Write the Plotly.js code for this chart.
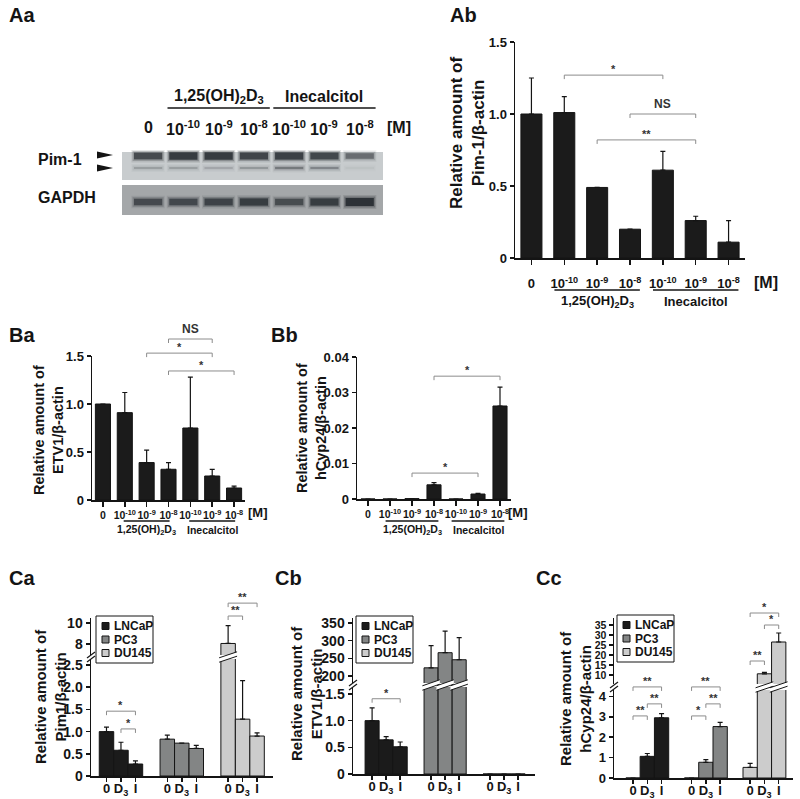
<!DOCTYPE html>
<html>
<head>
<meta charset="utf-8">
<script src="https://cdn.plot.ly/plotly-3.0.1.min.js"></script>
<style>
  body { margin: 0; background: #fff; }
  #chart { width: 800px; height: 799px; }
</style>
</head>
<body>
<div id="chart"></div>
<script>
// ---- data ----
const doseLabels = ['0', '10<sup>-10</sup>', '10<sup>-9</sup>', '10<sup>-8</sup>', '10<sup>-10</sup>', '10<sup>-9</sup>', '10<sup>-8</sup>'];
const groupNames = ['1,25(OH)<sub>2</sub>D<sub>3</sub>', 'Inecalcitol'];
const groupLanes = [[1, 2, 3], [4, 5, 6]];

// Aa: western blot band density per lane (0..1)
const pimUpperBand = [0.75, 0.9, 0.9, 0.8, 0.85, 0.78, 0.5];
const pimLowerBand = [0.22, 0.22, 0.18, 0.25, 0.42, 0.35, 0.05];
const gapdhBand = [0.7, 0.72, 0.78, 0.85, 0.68, 0.85, 1.0];

// Ab: Pim-1 / beta-actin
const pimMean = [1.0, 1.01, 0.49, 0.2, 0.61, 0.26, 0.11];
const pimErr = [0.25, 0.11, 0, 0, 0.13, 0.03, 0.15];

// Ba: ETV1 / beta-actin
const etvMean = [1.0, 0.91, 0.39, 0.32, 0.75, 0.25, 0.125];
const etvErr = [0, 0.21, 0.13, 0.07, 0.53, 0.07, 0.02];

// Bb: hCyp24 / beta-actin
const cypMean = [0, 0, 0.0001, 0.004, 0, 0.0014, 0.0262];
const cypErr = [0, 0, 0, 0.0006, 0, 0.0002, 0.0053];

// C: cell lines, treatments 0 / D3 / I
const cellLines = ['LNCaP', 'PC3', 'DU145'];
const treatLabels = ['0', 'D<sub>3</sub>', 'I'];

const caLNCaP = [1.0, 0.58, 0.27], caLNCaPErr = [0.1, 0.18, 0.07];
const caPC3 = [0.83, 0.74, 0.62], caPC3Err = [0.09, 0, 0.07];
const caDU145 = [8.05, 1.28, 0.9], caDU145Err = [1.7, 0.87, 0.07];

const cbLNCaP = [1.0, 0.64, 0.51], cbLNCaPErr = [0.24, 0.06, 0.09];
const cbPC3 = [223, 266, 246], cbPC3Err = [63, 61, 63];
const cbDU145 = [0, 0, 0], cbDU145Err = [0, 0, 0];

const ccLNCaP = [0, 1.06, 2.95], ccLNCaPErr = [0, 0.14, 0.2];
const ccPC3 = [0, 0.77, 2.52], ccPC3Err = [0, 0.13, 0.2];
const ccDU145 = [0.52, 10.6, 26.5], ccDU145Err = [0.2, 0.7, 4.5];

// ---- style ----
const FONT = 'Arial, "Liberation Sans", Helvetica, sans-serif';
const INK = '#141414';
const BRACKET = '#8c8c8c';
const seriesColors = ['#1b1b1b', '#838585', '#cccccc'];
const W = 800, H = 799;
const fx = p => p / W;
const fy = p => 1 - p / H;
const bold = (size, color) => ({ family: FONT, size: size, weight: 700, color: color || INK });

const traces = [], shapes = [], annotations = [];
const layout = {
  width: W, height: H,
  margin: { l: 0, r: 0, t: 0, b: 0 },
  paper_bgcolor: '#fff', plot_bgcolor: 'rgba(0,0,0,0)',
  barmode: 'overlay', showlegend: false,
  font: { family: FONT, color: INK }
};

function axis(extra) {
  return Object.assign({
    linecolor: INK, linewidth: 1.5, showline: true,
    ticks: 'outside', ticklen: 4, tickwidth: 1.5, tickcolor: INK,
    showgrid: false, zeroline: false, fixedrange: true, tickangle: 0,
    tickfont: bold(13)
  }, extra);
}

function text(x, y, t, size, opts) {
  annotations.push(Object.assign({
    xref: 'paper', yref: 'paper', x: fx(x), y: fy(y), text: t,
    showarrow: false, font: bold(size), xanchor: 'left', yanchor: 'middle'
  }, opts));
}

function yTitle(x, y, t, size) {
  text(x, y, t, size, { textangle: -90, xanchor: 'center' });
}

// significance bracket: x in lane units, y value on the axis, drawn in axis-domain space
function bracket(xa, ya, range, hPx, x0, x1, v, label) {
  const f = (v - range[0]) / (range[1] - range[0]);
  const d = 4 / hPx;
  shapes.push({
    type: 'path', xref: xa, yref: ya + ' domain',
    path: `M${x0},${f - d} L${x0},${f} L${x1},${f} L${x1},${f - d}`,
    line: { color: BRACKET, width: 1 }
  });
  annotations.push({
    xref: xa, yref: ya + ' domain', x: (x0 + x1) / 2, y: f, yshift: label === 'NS' ? 1 : -2,
    text: label, showarrow: false, yanchor: 'bottom', font: bold(label === 'NS' ? 12 : 11, '#333')
  });
}

function barTrace(xa, ya, x, y, err, color, width) {
  return {
    type: 'bar', x: x, y: y, xaxis: xa, yaxis: ya, width: width,
    marker: { color: color, line: { color: INK, width: 1 } },
    error_y: { type: 'data', symmetric: false, array: err.map(e => e || null), arrayminus: err.map(() => 0),
               color: INK, thickness: 1.2, width: 2.5 },
    hoverinfo: 'skip', showlegend: false
  };
}

// ---- Aa: blot ----
layout.xaxis = { domain: [fx(122), fx(383)], range: [-0.74, 6.66], visible: false, fixedrange: true, anchor: 'y' };
layout.yaxis = { domain: [fy(217), fy(150)], range: [0, 67], visible: false, fixedrange: true, anchor: 'x' };
shapes.push({ type: 'rect', xref: 'paper', yref: 'paper', x0: fx(122), x1: fx(383), y0: fy(180), y1: fy(152),
              fillcolor: '#c8ccce', line: { width: 0 }, layer: 'below' });
shapes.push({ type: 'rect', xref: 'paper', yref: 'paper', x0: fx(122), x1: fx(383), y0: fy(215), y1: fy(185),
              fillcolor: '#a4a7a9', line: { width: 0 }, layer: 'below' });
const blotRows = [
  { dens: pimUpperBand, y: 61, w: 8 },
  { dens: pimLowerBand, y: 49, w: 3.5 },
  { dens: gapdhBand, y: 15, w: 8 }
];
blotRows.forEach(row => row.dens.forEach((d, i) => {
  [[0.47, 0.15, 6], [0.44, 0.35, 3], [0.4, 1, 0]].forEach(l => {
    traces.push({ type: 'scatter', mode: 'lines', x: [i - l[0], i + l[0]], y: [row.y, row.y], xaxis: 'x', yaxis: 'y',
                  line: { color: `rgba(45,50,55,${l[1] * d})`, width: row.w * (0.4 + 0.6 * d) + l[2] },
                  hoverinfo: 'skip', showlegend: false });
  });
}));
doseLabels.forEach((t, i) => {
  annotations.push({ xref: 'x', yref: 'paper', x: i, y: fy(128), text: t, showarrow: false, font: bold(16), yanchor: 'middle' });
});
groupLanes.forEach((lanes, g) => {
  const c = lanes.reduce((a, b) => a + b, 0) / lanes.length;
  shapes.push({ type: 'line', xref: 'x', yref: 'paper', x0: c - 1.45, x1: c + 1.45, y0: fy(108), y1: fy(108), line: { color: INK, width: 1.5 } });
  annotations.push({ xref: 'x', yref: 'paper', x: c, y: fy(97), text: groupNames[g], showarrow: false, font: bold(16), yanchor: 'middle' });
});
text(385, 128, '[M]', 16);
text(36, 159, 'Pim-1', 16);
text(36, 197, 'GAPDH', 16);
[155, 168].forEach(y => {
  shapes.push({ type: 'path', xref: 'paper', yref: 'paper',
                path: `M${fx(97)},${fy(y - 3.5)} L${fx(113)},${fy(y)} L${fx(97)},${fy(y + 3.5)} Z`,
                fillcolor: INK, line: { width: 0 } });
});

// ---- dose-response bar panels (Ab, Ba, Bb) ----
const laneX = doseLabels.map((_, i) => i);
function dosePanel(p) {
  layout['xaxis' + p.n] = axis({ domain: [fx(p.x0), fx(p.x1)], range: [-0.5, 6.5], anchor: 'y' + p.n,
    tickvals: laneX, ticktext: doseLabels, tickfont: bold(p.xtick), ticklen: 5, ticklabelstandoff: p.standoff });
  layout['yaxis' + p.n] = axis({ domain: [fy(p.y1), fy(p.y0)], range: p.range, anchor: 'x' + p.n,
    tickvals: p.tickvals, ticktext: p.ticktext, tickfont: bold(p.ytick) });
  traces.push(barTrace('x' + p.n, 'y' + p.n, laneX, p.mean, p.err, seriesColors[0], p.barW));
  p.brackets.forEach(b => bracket('x' + p.n, 'y' + p.n, p.range, p.y1 - p.y0, b[0], b[1], b[2], b[3]));
  groupLanes.forEach((lanes, g) => {
    const c = lanes.reduce((a, b) => a + b, 0) / lanes.length;
    shapes.push({ type: 'line', xref: 'x' + p.n, yref: 'paper', x0: c - p.half, x1: c + p.half,
                  y0: fy(p.lineY), y1: fy(p.lineY), line: { color: INK, width: 1.5 } });
    annotations.push({ xref: 'x' + p.n, yref: 'paper', x: c, y: fy(p.groupY), text: groupNames[g],
                       showarrow: false, font: bold(p.groupSize), yanchor: 'middle' });
  });
  text(p.mX, p.mY, '[M]', p.mSize);
}

dosePanel({ n: 2, x0: 515, x1: 745, y0: 42, y1: 258, range: [0, 1.5],
  tickvals: [0, 0.5, 1, 1.5], ticktext: ['0', '0.5', '1.0', '1.5'], ytick: 13, xtick: 13, standoff: 8,
  mean: pimMean, err: pimErr, barW: 0.64,
  brackets: [[1, 4, 1.27, '*'], [3, 5, 1.0, 'NS'], [2, 5, 0.82, '**']],
  half: 1.3, lineY: 290, groupY: 301, groupSize: 13, mX: 752, mY: 282, mSize: 16 });

dosePanel({ n: 3, x0: 92, x1: 245, y0: 356, y1: 500, range: [0, 1.5],
  tickvals: [0, 0.5, 1, 1.5], ticktext: ['0', '0.5', '1.0', '1.5'], ytick: 13, xtick: 10.5, standoff: 0,
  mean: etvMean, err: etvErr, barW: 0.69,
  brackets: [[3, 5, 1.677, 'NS'], [2, 5, 1.53, '*'], [3, 6, 1.344, '*']],
  half: 1.05, lineY: 521, groupY: 530, groupSize: 10.5, mX: 246, mY: 512, mSize: 13 });

dosePanel({ n: 4, x0: 357, x1: 511, y0: 357, y1: 499, range: [0, 0.04],
  tickvals: [0, 0.01, 0.02, 0.03, 0.04], ticktext: ['0', '0.01', '0.02', '0.03', '0.04'], ytick: 13, xtick: 10.5, standoff: 0,
  mean: cypMean, err: cypErr, barW: 0.64,
  brackets: [[3, 6, 0.0346, '*'], [2, 5, 0.0073, '*']],
  half: 1.2, lineY: 521, groupY: 530, groupSize: 10.5, mX: 506, mY: 512, mSize: 13 });

// ---- broken-axis panels (Ca, Cb, Cc) ----
function slash(xa, xc, midPx) {
  const xl = xc - 0.62, xr = xc + 0.62, s = 3, t = 2.2;
  const lowL = midPx + s + t, lowR = midPx - s + t, upL = midPx + s - t, upR = midPx - s - t;
  shapes.push({ type: 'path', xref: xa, yref: 'paper',
    path: `M${xl},${fy(lowL)} L${xr},${fy(lowR)} L${xr},${fy(upR)} L${xl},${fy(upL)} Z`,
    fillcolor: '#fff', line: { width: 0 } });
  [[lowL, lowR], [upL, upR]].forEach(e => shapes.push({ type: 'line', xref: xa, yref: 'paper',
    x0: xl, x1: xr, y0: fy(e[0]), y1: fy(e[1]), line: { color: INK, width: 1 } }));
}

// boxed key drawn in paper space, one row per cell line
function keyBox(x0, y0) {
  const w = 57, h = 47;
  shapes.push({ type: 'rect', xref: 'paper', yref: 'paper', x0: fx(x0), x1: fx(x0 + w), y0: fy(y0 + h), y1: fy(y0),
                fillcolor: '#fff', line: { color: INK, width: 1 } });
  cellLines.forEach((name, k) => {
    const yc = y0 + 10 + k * 13.5;
    shapes.push({ type: 'rect', xref: 'paper', yref: 'paper', x0: fx(x0 + 6), x1: fx(x0 + 13), y0: fy(yc + 3.5), y1: fy(yc - 3.5),
                  fillcolor: seriesColors[k], line: { color: INK, width: 1 } });
    text(x0 + 16, yc, name, 12);
  });
}

function cPanel(p) {
  const xa = 'x' + p.n, yLo = 'y' + p.n, yHi = 'y' + (p.n + 1);
  const tickvals = [], ticktext = [];
  cellLines.forEach((_, k) => treatLabels.forEach((t, i) => { tickvals.push(k * p.step + i); ticktext.push(t); }));
  layout['xaxis' + p.n] = axis({ domain: [fx(p.x0), fx(p.x1)], range: p.xrange, anchor: yLo,
    tickvals: tickvals, ticktext: ticktext, tickfont: bold(13), ticklen: 4, ticklabelstandoff: -4 });
  layout['yaxis' + p.n] = axis({ domain: [fy(p.lo[1]), fy(p.lo[0])], range: p.loRange, anchor: xa,
    tickvals: p.loTicks, ticktext: p.loText, tickfont: bold(p.ytick) });
  layout['yaxis' + (p.n + 1)] = axis({ domain: [fy(p.hi[1]), fy(p.hi[0])], range: p.hiRange, anchor: xa,
    tickvals: p.hiTicks, ticktext: p.hiTicks.map(String), tickfont: bold(p.ytickHi || p.ytick) });
  p.vals.forEach((vals, k) => {
    const x = vals.map((_, i) => k * p.step + i);
    [yLo, yHi].forEach(ya => {
      const tr = barTrace(xa, ya, x, vals, p.errs[k], seriesColors[k], 1);
      tr.name = cellLines[k];
      traces.push(tr);
    });
    vals.forEach((v, i) => { if (v > p.loRange[1]) slash(xa, k * p.step + i, p.breakPx); });
  });
  // axis break marks
  const ax = p.x0;
  [-2, 2].forEach(o => shapes.push({ type: 'line', xref: 'paper', yref: 'paper',
    x0: fx(ax - 4), x1: fx(ax + 4), y0: fy(p.breakPx + o + 3), y1: fy(p.breakPx + o - 3), line: { color: INK, width: 1.2 } }));
  p.brackets.forEach(b => {
    const hi = b[4] === 'hi';
    bracket(xa, hi ? yHi : yLo, hi ? p.hiRange : p.loRange, hi ? p.hi[1] - p.hi[0] : p.lo[1] - p.lo[0],
            b[0][0] * p.step + b[0][1], b[1][0] * p.step + b[1][1], b[2], b[3]);
  });
  keyBox(p.keyXY[0], p.keyXY[1]);
}

cPanel({ n: 5, x0: 91, x1: 273, xrange: [-1.07, 11.5], step: 4.2,
  lo: [659, 776], loRange: [0, 2.635], loTicks: [0, 0.5, 1, 1.5, 2, 2.5], loText: ['0', '0.5', '1.0', '1.5', '2.0', '2.5'],
  hi: [618, 655], hiRange: [6.95, 10.48], hiTicks: [8, 10], ytick: 14, breakPx: 657,
  vals: [caLNCaP, caPC3, caDU145], errs: [caLNCaPErr, caPC3Err, caDU145Err],
  brackets: [[[0, 0], [0, 2], 1.46, '*', 'lo'], [[0, 1], [0, 2], 1.06, '*', 'lo'],
             [[2, 0], [2, 1], 10.67, '**', 'hi'], [[2, 0], [2, 2], 11.9, '**', 'hi']],
  keyXY: [96, 616] });

cPanel({ n: 7, x0: 353, x1: 535, xrange: [-1.36, 11.6], step: 4.2,
  lo: [687, 774], loRange: [0, 1.63], loTicks: [0, 0.5, 1, 1.5], loText: ['0', '0.5', '1.0', '1.5'],
  hi: [618, 683], hiRange: [180, 364.4], hiTicks: [200, 250, 300, 350], ytick: 14, breakPx: 685,
  vals: [cbLNCaP, cbPC3, cbDU145], errs: [cbLNCaPErr, cbPC3Err, cbDU145Err],
  brackets: [[[0, 0], [0, 2], 1.41, '*', 'lo']],
  keyXY: [356, 616] });

cPanel({ n: 9, x0: 614, x1: 793, xrange: [-1.33, 11.2], step: 4.1,
  lo: [690, 778], loRange: [0, 4.31], loTicks: [0, 1, 2, 3, 4], loText: ['0', '1', '2', '3', '4'],
  hi: [618, 684], hiRange: [5.5, 38.5], hiTicks: [10, 15, 20, 25, 30, 35], ytick: 13, ytickHi: 10.5, breakPx: 687,
  vals: [ccLNCaP, ccPC3, ccDU145], errs: [ccLNCaPErr, ccPC3Err, ccDU145Err],
  brackets: [[[0, 0], [0, 2], 4.46, '**', 'lo'], [[0, 1], [0, 2], 3.63, '**', 'lo'], [[0, 0], [0, 1], 3.04, '**', 'lo'],
             [[1, 0], [1, 2], 4.46, '**', 'lo'], [[1, 1], [1, 2], 3.63, '**', 'lo'], [[1, 0], [1, 1], 3.04, '*', 'lo'],
             [[2, 0], [2, 1], 17, '**', 'hi'], [[2, 0], [2, 2], 41, '*', 'hi'], [[2, 1], [2, 2], 35, '*', 'hi']],
  keyXY: [617, 615] });

// ---- titles and panel letters ----
yTitle(467, 133, 'Relative amount of<br>Pim-1/β-actin', 17);
yTitle(48, 430, 'Relative amount of<br>ETV1/β-actin', 14.5);
yTitle(311, 428, 'Relative amount of<br>hCyp24/β-actin', 14.5);
yTitle(50, 697, 'Relative amount of<br>Pim1/β-actin', 15);
yTitle(306, 694, 'Relative amount of<br>ETV1/β-actin', 15);
yTitle(575, 699, 'Relative amount of<br>hCyp24/β-actin', 15);

[['Aa', 7, 15], ['Ab', 448, 15], ['Ba', 7, 335], ['Bb', 269, 335],
 ['Ca', 7, 578], ['Cb', 273, 578], ['Cc', 534, 578]].forEach(l => text(l[1], l[2], l[0], 20));

layout.shapes = shapes;
layout.annotations = annotations;

Plotly.newPlot('chart', traces, layout, { displayModeBar: false, staticPlot: true });
</script>
</body>
</html>
